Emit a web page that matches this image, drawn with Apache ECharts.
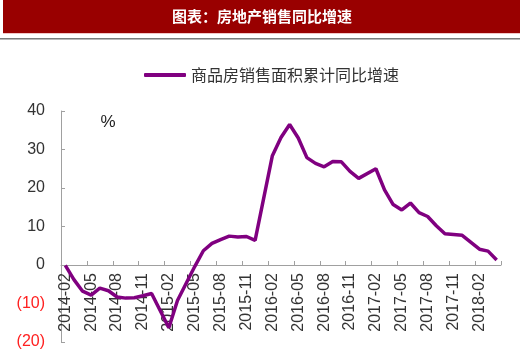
<!DOCTYPE html>
<html>
<head>
<meta charset="utf-8">
<script src="https://cdn.jsdelivr.net/npm/echarts@6/dist/echarts.min.js"></script>
<style>html,body{margin:0;padding:0;background:#fff}#c{width:520px;height:357px}</style>
</head>
<body>
<div id="c"></div>
<script>
var categories = [
  '2014-02','2014-03','2014-04','2014-05','2014-06','2014-07','2014-08','2014-09','2014-10','2014-11','2014-12',
  '2015-01','2015-02','2015-03','2015-04','2015-05','2015-06','2015-07','2015-08','2015-09','2015-10','2015-11','2015-12',
  '2016-01','2016-02','2016-03','2016-04','2016-05','2016-06','2016-07','2016-08','2016-09','2016-10','2016-11','2016-12',
  '2017-01','2017-02','2017-03','2017-04','2017-05','2017-06','2017-07','2017-08','2017-09','2017-10','2017-11','2017-12',
  '2018-01','2018-02','2018-03','2018-04'
];
var salesAreaYoY = [
  -0.1, -3.8, -6.8, -7.8, -6.0, -6.7, -8.3, -8.6, -8.5, -8.0, -7.4,
  null, -16.3, -9.2, -4.8, -0.4, 3.7, 5.6, 6.6, 7.5, 7.3, 7.4, 6.4,
  null, 28.4, 33.1, 36.5, 33.0, 27.9, 26.4, 25.5, 26.9, 26.8, 24.3, 22.5,
  null, 25.0, 19.5, 15.7, 14.3, 16.1, 13.6, 12.6, 10.2, 8.1, 7.9, 7.7,
  null, 4.1, 3.6, 1.3
];
var seriesName = '商品房销售面积累计同比增速';
var titleText = '图表：房地产销售同比增速';
var unitText = '%';
var yMin = -20, yMax = 40, yStep = 10;

var gridTop = 111, gridBottom = 15, chartH = 357;
var plotH = chartH - gridTop - gridBottom;
// place the category axis where the value 0 falls
var zeroOffset = -plotH * (0 - yMin) / (yMax - yMin);

var chart = echarts.init(document.getElementById('c'), null, {renderer: 'canvas'});
var latin = '"Liberation Sans", Arial, "Noto Sans CJK SC", sans-serif';
var cjk = '"Noto Sans CJK SC", "Liberation Sans", sans-serif';
chart.setOption({
  animation: false,
  backgroundColor: '#fff',
  graphic: [
    {type: 'rect', shape: {x: 3, y: 0, width: 517, height: 33}, style: {fill: '#990000'}},
    {type: 'rect', shape: {x: 3, y: 33, width: 517, height: 1}, style: {fill: '#f2c6c6'}},
    {type: 'rect', shape: {x: 0, y: 38, width: 520, height: 1}, style: {fill: '#7a7a7a'}},
    {type: 'rect', shape: {x: 0, y: 39, width: 520, height: 1}, style: {fill: '#b8b8b8'}},
    {type: 'text', x: 262, y: 16, style: {text: titleText, fill: '#fff', font: 'bold 15px ' + cjk, align: 'center', verticalAlign: 'middle'}},
    {type: 'text', x: 108, y: 122, style: {text: unitText, fill: '#222', font: '17px ' + latin, align: 'center', verticalAlign: 'middle'}}
  ],
  legend: {
    data: [seriesName],
    left: 139, top: 62,
    icon: 'roundRect',
    itemWidth: 42, itemHeight: 4,
    textStyle: {fontFamily: cjk, fontSize: 16, color: '#333'}
  },
  grid: {left: 61, right: 19, top: gridTop, bottom: gridBottom, containLabel: false, outerBoundsMode: 'none'},
  xAxis: {
    type: 'category',
    data: categories,
    boundaryGap: true,
    position: 'bottom',
    offset: zeroOffset,
    axisLine: {onZero: false, lineStyle: {color: '#a0a0a0', width: 1}},
    axisTick: {show: true, inside: true, length: 4, interval: 2, lineStyle: {color: '#a0a0a0'}},
    axisLabel: {interval: 2, rotate: 90, margin: 8, fontFamily: latin, fontSize: 16, color: '#333'},
    splitLine: {show: false}
  },
  yAxis: {
    type: 'value',
    min: yMin, max: yMax, interval: yStep,
    axisLine: {show: true, lineStyle: {color: '#a0a0a0', width: 1}},
    axisTick: {show: true, inside: true, length: 4, lineStyle: {color: '#a0a0a0'}},
    splitLine: {show: false},
    axisLabel: {
      margin: 16, fontFamily: latin, fontSize: 16,
      formatter: function (v) { return v < 0 ? '(' + Math.abs(v) + ')' : String(v); },
      color: function (v) { return Number(v) < 0 ? '#ff2020' : '#333'; }
    }
  },
  series: [{
    name: seriesName,
    type: 'line',
    data: salesAreaYoY,
    connectNulls: true,
    showSymbol: false,
    symbol: 'none',
    lineStyle: {color: '#800080', width: 3.5},
    itemStyle: {color: '#800080'}
  }]
});
</script>
</body>
</html>
